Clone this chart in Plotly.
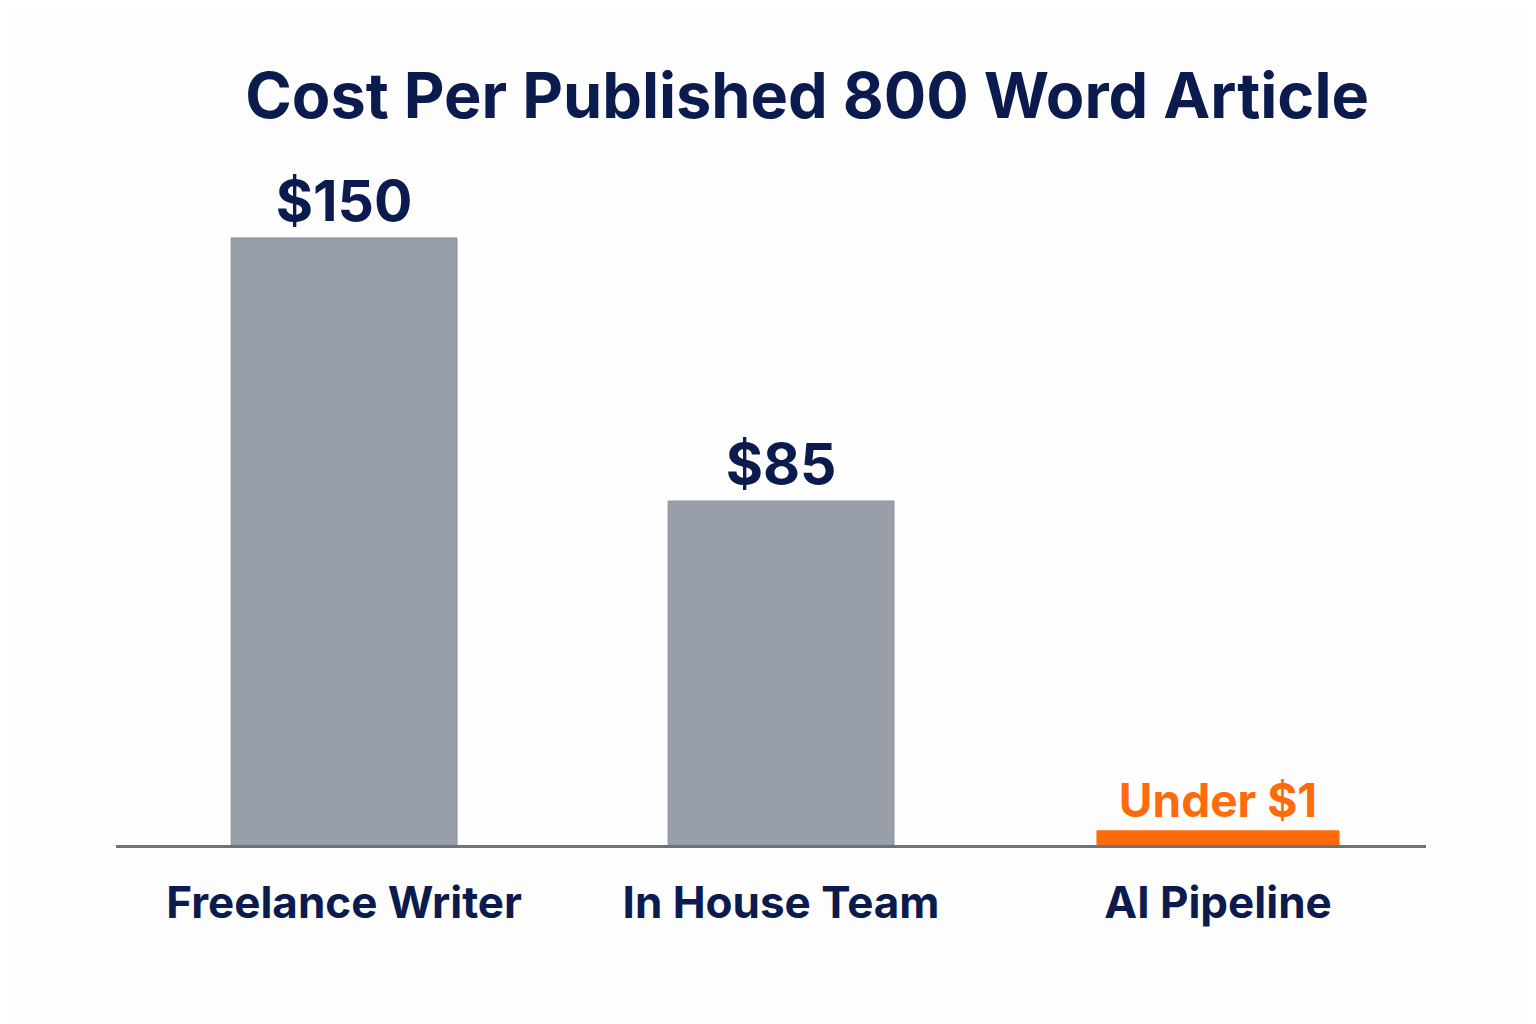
import plotly.graph_objects as go

# Data
categories = ['Freelance Writer', 'In House Team', 'AI Pipeline']
bar_heights = [150, 85, 3.5]          # AI bar drawn as a thin sliver
value_labels = ['$150', '$85', 'Under $1']
bar_colors = ['#989fa9', '#989fa9', '#ff6a0c']
label_colors = ['#0c1b4d', '#0c1b4d', '#ff6a0c']
label_sizes = [57, 57, 46]
bar_widths = [0.517, 0.517, 0.554]

navy = '#0c1b4d'
font_family = 'Inter, Roboto, "Open Sans", sans-serif'

fig = go.Figure()

fig.add_trace(go.Bar(
    x=categories,
    y=bar_heights,
    width=bar_widths,
    marker=dict(color=bar_colors, line=dict(color=['#8a92a0', '#8a92a0', '#ff6a0c'], width=1)),
    text=value_labels,
    textposition='outside',
    textfont=dict(family=font_family, size=label_sizes, color=label_colors, weight='bold'),
    cliponaxis=False,
    hoverinfo='skip',
))

fig.update_layout(
    width=1528,
    height=1016,
    paper_bgcolor='#fdfdfd',
    plot_bgcolor='#fdfdfd',
    margin=dict(l=108, r=110, t=149, b=179),
    showlegend=False,
    title=dict(
        text='Cost Per Published 800 Word Article',
        x=0.523, xanchor='center',
        y=0.913, yanchor='middle',
        font=dict(family=font_family, size=63, color=navy, weight='bold'),
    ),
)

fig.update_xaxes(
    range=[-0.522, 2.476],
    showline=True, linecolor='#6b7280', linewidth=3,
    showgrid=False, zeroline=False, ticks='',
    tickfont=dict(family=font_family, size=44, color=navy, weight='bold'),
    ticklabelstandoff=17,
)
fig.update_yaxes(
    range=[0, 170],
    visible=False,
    showgrid=False, zeroline=False,
)

fig.write_html('out.html')
